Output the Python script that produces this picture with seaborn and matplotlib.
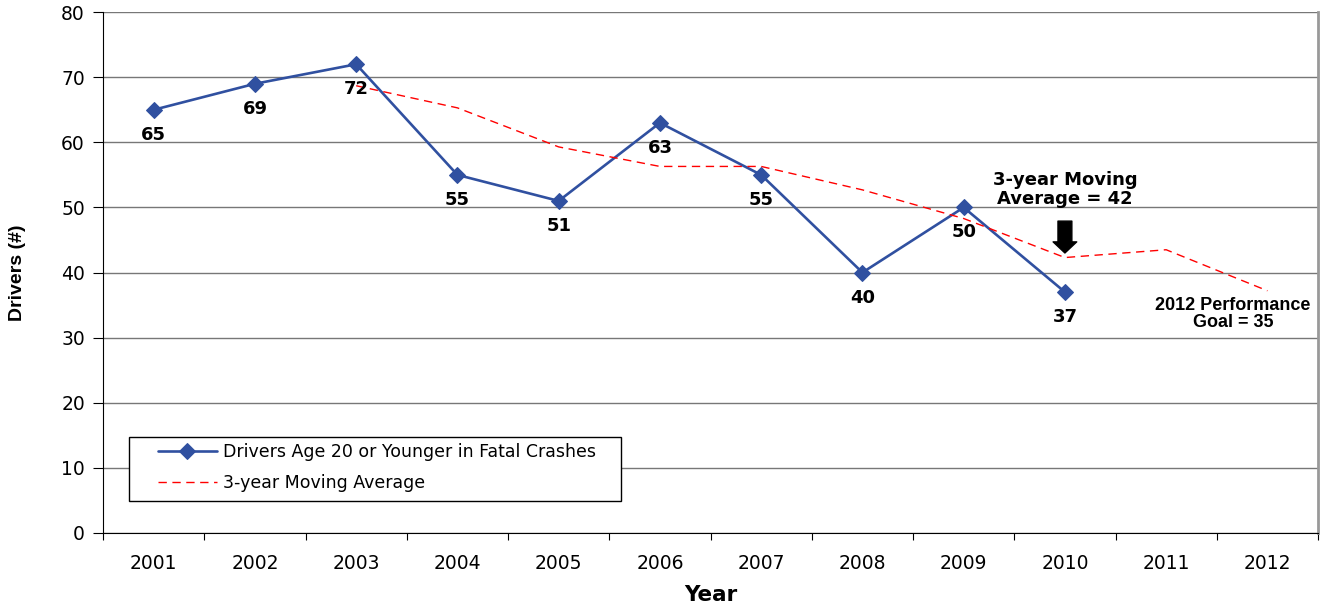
import numpy as np
import pandas as pd
import seaborn as sns
import matplotlib.pyplot as plt
from matplotlib.patches import Rectangle
from matplotlib.ticker import FixedLocator

# data
years = ['2001', '2002', '2003', '2004', '2005', '2006', '2007', '2008', '2009', '2010', '2011', '2012']
drivers = [65, 69, 72, 55, 51, 63, 55, 40, 50, 37, np.nan, np.nan]
moving_avg = [np.nan, np.nan, 68.7, 65.3, 59.3, 56.3, 56.3, 52.7, 48.3, 42.3, 43.5, 37.2]

sns.set_style('white')
plt.rcParams['font.family'] = ['DejaVu Sans']
for k in ['text.color', 'axes.labelcolor', 'xtick.color', 'ytick.color']:
    plt.rcParams[k] = 'black'

df = pd.DataFrame({'pos': np.arange(len(years)), 'year': years,
                   'drivers': drivers, 'ma': moving_avg})

fig = plt.figure(figsize=(13.28, 6.09), dpi=100)
ax = fig.add_axes([0.0776, 0.125, 0.9149, 0.855])

blue = '#3050A0'
sns.lineplot(data=df, x='pos', y='drivers', ax=ax, color=blue, lw=1.9,
             marker='D', markersize=8, markeredgecolor=blue,
             label='Drivers Age 20 or Younger in Fatal Crashes')
sns.lineplot(data=df, x='pos', y='ma', ax=ax, color='#FF0000', lw=1,
             linestyle=(0, (6, 4)), label='3-year Moving Average')

# point labels under the markers
for p, v in zip(df['pos'], df['drivers']):
    if not np.isnan(v):
        ax.annotate(f'{v:.0f}', (p, v), xytext=(0, -18), textcoords='offset points',
                    ha='center', va='center', fontsize=13, fontweight='bold')

ax.set_xlim(-0.5, len(years) - 0.5)
ax.set_ylim(0, 80)
ax.set_yticks(range(0, 81, 10))
ax.yaxis.grid(True, color='#777777', lw=1)
ax.set_axisbelow(True)

# category ticks between years, labels centred
ax.xaxis.set_major_locator(FixedLocator(np.arange(-0.5, len(years), 1.0)))
ax.xaxis.set_minor_locator(FixedLocator(df['pos']))
ax.set_xticklabels([])
ax.set_xticklabels(years, minor=True)
ax.tick_params(axis='x', which='major', length=5, direction='out', color='black', bottom=True)
ax.tick_params(axis='x', which='minor', length=0, labelsize=13.5, pad=15)
ax.tick_params(axis='y', length=7, direction='out', color='black', left=True,
               labelsize=13.5, pad=6)

for s in ['left', 'bottom']:
    ax.spines[s].set_color('black')
ax.spines['top'].set_visible(False)
ax.spines['right'].set_color('#999999')
ax.spines['right'].set_linewidth(2)

ax.set_xlabel('Year', fontsize=15.5, fontweight='bold', labelpad=9)
ax.set_ylabel('Drivers (#)', fontsize=14, fontweight='bold', labelpad=25,
              family=['Liberation Sans', 'DejaVu Sans'])

# annotations
ax.text(9, 49.9, '3-year Moving\nAverage = 42', ha='center', va='bottom',
        fontsize=13, fontweight='bold', linespacing=1.05)
ax.annotate('', xy=(9, 43.0), xytext=(9, 47.9),
            arrowprops=dict(facecolor='black', edgecolor='black', width=10,
                            headwidth=17, headlength=8))
ax.text(10.66, 33.7, '2012 Performance\nGoal = 35', ha='center', va='center',
        fontsize=13, fontweight='bold', linespacing=1.0,
        family=['Liberation Sans', 'DejaVu Sans'])

# legend with its own box
ax.add_patch(Rectangle((0.0214, 0.0614), 0.405, 0.123, transform=ax.transAxes,
                       facecolor='white', edgecolor='black', lw=1, zorder=4))
leg = ax.legend(loc='upper left', bbox_to_anchor=(0.045, 0.172), fontsize=12.5,
                frameon=False, borderpad=0, borderaxespad=0, handlelength=3.4,
                handletextpad=0.35, labelspacing=0.75)
leg.set_zorder(5)

fig.savefig('out.png', dpi=100)
